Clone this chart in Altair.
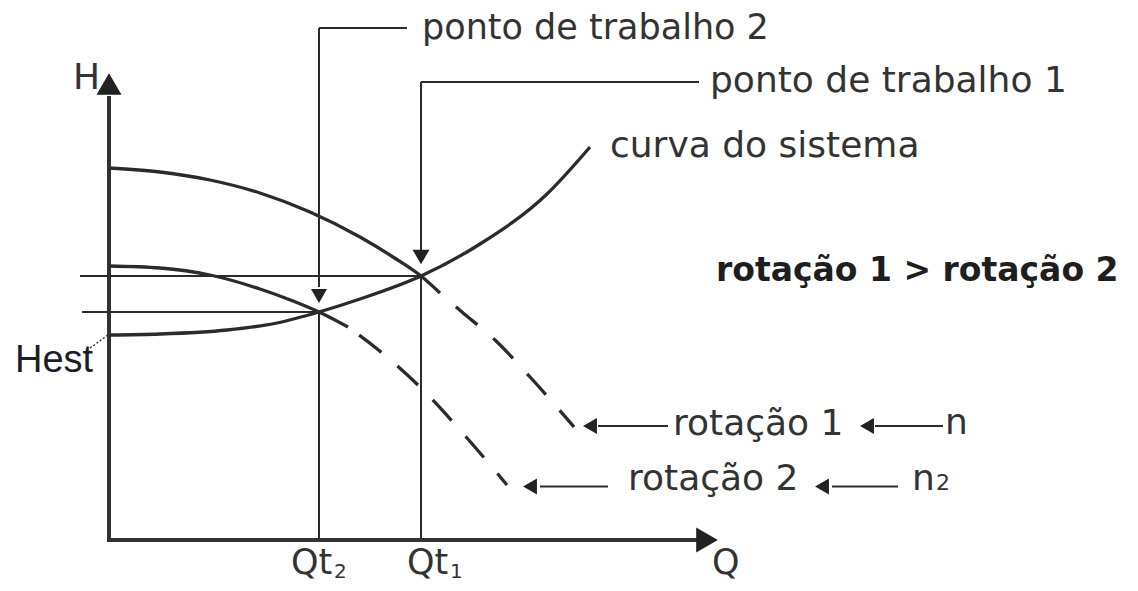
import altair as alt
import pandas as pd

# ---------------- data (Q = vazão, H = altura), schematic units ----------------
# pump curve, rotação 1 (solid part) and its dashed continuation
pump1_q = [0, 5.1, 10.1, 15.1, 20.1, 25.1, 28.4, 31.2, 33.1]
pump1_h = [37.2, 36.8, 36.0, 34.7, 32.8, 30.3, 28.3, 26.4, 24.7]
pump1_dash_q = [33.1, 35.3, 38.6, 42.2, 46.5]
pump1_dash_h = [24.7, 22.8, 20.0, 16.2, 11.3]
# pump curve, rotação 2
pump2_q = [0, 5.1, 10.1, 15.1, 18.4, 21.0, 23.9]
pump2_h = [27.4, 27.2, 26.5, 25.1, 23.9, 22.8, 21.3]
pump2_dash_q = [23.9, 26.7, 31.1, 35.8, 39.8]
pump2_dash_h = [21.3, 19.2, 15.3, 10.2, 5.5]
# curva do sistema
system_q = [0, 5.1, 11.8, 16.8, 21.0, 25.1, 31.2, 37.1, 43.8, 48.1]
system_h = [20.5, 20.6, 21.0, 21.7, 22.8, 24.1, 26.4, 29.6, 34.6, 39.3]

# operating points
qt1, ht1 = 31.2, 26.4
qt2, ht2 = 21.0, 22.8

# thin guide / leader segments: (q1, h1, q2, h2)
guide_q1 = [-2.9, -2.7, qt2, qt2, qt2, qt1, qt1, qt1, 48.9, 76.6, 43.1, 72.3]
guide_h1 = [ht1, ht2, 51.2, 51.2, ht2, 45.8, 45.8, ht1, 11.4, 11.4, 5.35, 5.35]
guide_q2 = [qt1, qt2, qt2, 29.8, qt2, qt1, 59.0, qt1, 55.9, 83.4, 49.9, 78.9]
guide_h2 = [ht1, ht2, 25.3, 51.2, 0, 29.0, 45.8, 0, 11.4, 11.4, 5.35, 5.35]

# axes
axis_q1 = [0, -0.2]
axis_h1 = [-0.2, 0]
axis_q2 = [0, 58.8]
axis_h2 = [44.4, 0]

# arrow heads
head_q = [0, 59.8, qt2, qt1, 48.1, 75.8, 42.1, 71.3]
head_h = [45.6, 0, 24.4, 28.3, 11.4, 11.4, 5.35, 5.35]
head_shape = ["triangle-up", "triangle-right", "triangle-down", "triangle-down",
              "triangle-left", "triangle-left", "triangle-left", "triangle-left"]
head_size = [625, 625, 256, 289, 256, 256, 256, 256]

# labels
label_text = ["ponto de trabalho 2", "ponto de trabalho 1", "curva do sistema",
              "rotação 1", "rotação 2", "n", "n", "2", "H", "Q",
              "Qt", "2", "Qt", "1"]
label_q = [31.3, 60.1, 50.1, 56.4, 51.9, 83.6, 80.3, 82.7, -3.6, 60.3,
           18.2, 22.5, 29.8, 34.1]
label_h = [50.1, 44.8, 38.3, 10.5, 5.0, 10.6, 5.0, 5.0, 45.1, -3.4,
           -3.4, -3.8, -3.4, -3.8]
label_fs = [35, 36, 36, 36, 36, 36, 36, 22, 36, 35, 35, 20, 35, 20]

bold_text = ["rotação 1 > rotação 2"]
bold_q = [60.7]
bold_h = [25.9]

hest_text = ["Hest"]
hest_q = [-9.4]
hest_h = [16.8]
hest_lead_q = [-1.9, -0.1]
hest_lead_h = [19.2, 20.5]

# ---------------- tables ----------------
def curve(name, qs, hs):
    return pd.DataFrame({"Q": qs, "H": hs, "curve": name, "i": range(len(qs))})

solid_df = pd.concat([curve("p1", pump1_q, pump1_h),
                      curve("p2", pump2_q, pump2_h),
                      curve("sys", system_q, system_h)])
dash1_df = curve("p1d", pump1_dash_q, pump1_dash_h)
dash2_df = curve("p2d", pump2_dash_q, pump2_dash_h)
guide_df = pd.DataFrame({"Q": guide_q1, "H": guide_h1, "Q2": guide_q2, "H2": guide_h2})
axis_df = pd.DataFrame({"Q": axis_q1, "H": axis_h1, "Q2": axis_q2, "H2": axis_h2})
head_df = pd.DataFrame({"Q": head_q, "H": head_h, "shape": head_shape, "size": head_size})
label_df = pd.DataFrame({"Q": label_q, "H": label_h, "t": label_text, "fs": label_fs})
bold_df = pd.DataFrame({"Q": bold_q, "H": bold_h, "t": bold_text})
hest_df = pd.DataFrame({"Q": hest_q, "H": hest_h, "t": hest_text})
hest_lead_df = pd.DataFrame({"Q": [hest_lead_q[0]], "H": [hest_lead_h[0]],
                             "Q2": [hest_lead_q[1]], "H2": [hest_lead_h[1]]})

W, H = 1122, 575
xs = alt.Scale(domain=[-10.1, 102.1], nice=False, zero=False)
ys = alt.Scale(domain=[-4.3, 53.2], nice=False, zero=False)
X = alt.X("Q:Q", scale=xs, axis=None)
Y = alt.Y("H:Q", scale=ys, axis=None)

ink = "#2b2b2b"

solid = alt.Chart(solid_df).mark_line(color=ink, strokeWidth=3.3, interpolate="monotone").encode(
    x=X, y=Y, detail="curve:N", order="i:Q")
dashed1 = alt.Chart(dash1_df).mark_line(color=ink, strokeWidth=3.3, interpolate="monotone",
                                        strokeDash=[28, 21], strokeDashOffset=28).encode(
    x=X, y=Y, order="i:Q")
dashed2 = alt.Chart(dash2_df).mark_line(color=ink, strokeWidth=3.3, interpolate="monotone",
                                        strokeDash=[28, 21], strokeDashOffset=35).encode(
    x=X, y=Y, order="i:Q")
guides = alt.Chart(guide_df).mark_rule(color=ink, strokeWidth=2).encode(
    x=X, y=Y, x2="Q2:Q", y2="H2:Q")
axes = alt.Chart(axis_df).mark_rule(color="#333333", strokeWidth=4).encode(
    x=X, y=Y, x2="Q2:Q", y2="H2:Q")
heads = alt.Chart(head_df).mark_point(filled=True, opacity=1, color="#222222", strokeWidth=0).encode(
    x=X, y=Y, shape=alt.Shape("shape:N", scale=None), size=alt.Size("size:Q", scale=None))
labels = alt.Chart(label_df).mark_text(align="left", baseline="alphabetic", font="DejaVu Sans",
                                       color="#333333").encode(
    x=X, y=Y, text="t:N", size=alt.Size("fs:Q", scale=None))
bold = alt.Chart(bold_df).mark_text(align="left", baseline="alphabetic", font="DejaVu Sans",
                                    fontWeight="bold", fontSize=33, color="#1e1e1e").encode(
    x=X, y=Y, text="t:N")
hest = alt.Chart(hest_df).mark_text(align="left", baseline="alphabetic", font="Liberation Sans",
                                    fontSize=38, color="#1c1c28").encode(
    x=X, y=Y, text="t:N")
hest_lead = alt.Chart(hest_lead_df).mark_rule(color=ink, strokeWidth=1.3, strokeDash=[2, 2]).encode(
    x=X, y=Y, x2="Q2:Q", y2="H2:Q")

chart = alt.layer(axes, guides, hest_lead, solid, dashed1, dashed2, heads, labels, bold, hest).properties(
    width=W, height=H, padding=0, autosize=alt.AutoSizeParams(type="none"),
    background="white"
).configure_view(stroke=None)

chart.save("out.html", embed_options={"renderer": "svg", "actions": False})
